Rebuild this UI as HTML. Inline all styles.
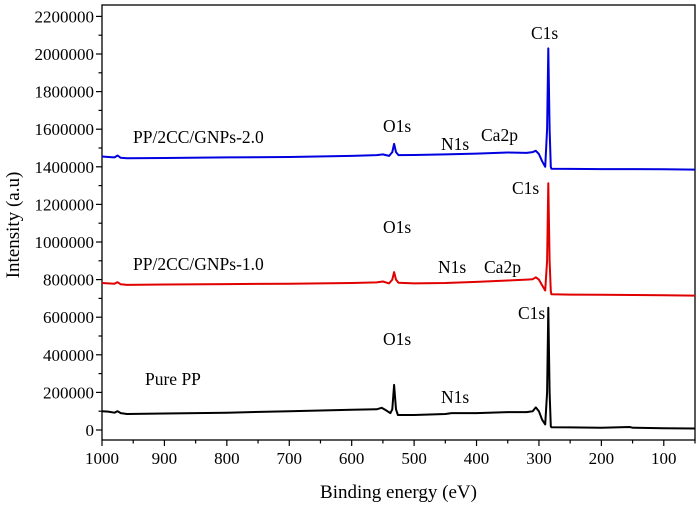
<!DOCTYPE html>
<html><head><meta charset="utf-8"><style>
html,body{margin:0;padding:0;background:#fff;}
svg text{font-family:"Liberation Serif",serif;fill:#000;}
</style></head><body>
<svg id="chart" width="700" height="510" viewBox="0 0 700 510" xmlns="http://www.w3.org/2000/svg"></svg>
<script>
const xTicks=[1000,900,800,700,600,500,400,300,200,100];
const yTicks=[0,200000,400000,600000,800000,1000000,1200000,1400000,1600000,1800000,2000000,2200000];
const energyPure=[1000,990,980,975,970,960,900,800,700,600,560,552,545,538,535,532,529,526,520,500,450,440,400,350,320,310,305,300,295,290,287,285,283,281,280,250,200,155,150,100,50];
const valuesPure=[100000,98000,92000,100000,90000,85000,88000,92000,100000,108000,110000,118000,105000,90000,110000,240000,110000,80000,80000,80000,85000,90000,90000,95000,95000,100000,120000,100000,55000,30000,200000,650000,200000,20000,15000,14000,12000,16000,12000,9000,8000];
const energyRed=[1000,990,980,975,970,960,900,800,700,600,560,550,540,535,532,529,525,500,450,400,350,320,310,305,300,295,290,287,285,283,281,280,250,200,150,100,50];
const valuesRed=[782000,780000,778000,786000,775000,772000,774000,776000,778000,782000,785000,790000,780000,800000,840000,800000,783000,780000,782000,788000,795000,800000,802000,812000,800000,770000,742000,900000,1312000,900000,740000,722000,720000,719000,718000,717000,715000];
const energyBlue=[1000,990,980,975,970,960,900,800,700,600,560,550,540,535,532,529,525,500,450,400,350,320,310,305,300,295,290,287,285,283,281,280,250,200,150,100,50];
const valuesBlue=[1455000,1452000,1450000,1460000,1448000,1445000,1447000,1450000,1452000,1458000,1462000,1466000,1458000,1478000,1522000,1478000,1462000,1463000,1466000,1470000,1476000,1474000,1478000,1485000,1468000,1430000,1400000,1600000,2030000,1600000,1400000,1390000,1389000,1388000,1388000,1387000,1385000];

const NS="http://www.w3.org/2000/svg";
const svg=document.getElementById('chart');
const L=102,R=695,T=5,B=440;
const xMin=50,xMax=1000,yZero=430,yPer=37.6/200000;
function sx(e){return L+(xMax-e)/(xMax-xMin)*(R-L);}
function sy(v){return yZero-v*yPer;}
function el(tag,attrs,parent){const e=document.createElementNS(NS,tag);for(const k in attrs)e.setAttribute(k,attrs[k]);(parent||svg).appendChild(e);return e;}

const frame=el('rect',{x:L,y:T,width:R-L,height:B-T,fill:'none',stroke:'#000','stroke-width':1.3});



const xAxis=el('g',{});


for(let e=1000;e>=50;e-=50){
  const major=e%100===0;
  el('line',{x1:sx(e),x2:sx(e),y1:B,y2:B+(major?6:3.5),stroke:'#000','stroke-width':1.2},xAxis);
}
xTicks.forEach(t=>{
  const tx=el('text',{x:sx(t),y:B+24,'font-size':17,'text-anchor':'middle'},xAxis);
  
  
  tx.textContent=t;
});
const yAxis=el('g',{});


for(let v=0;v<=2200000;v+=100000){
  const major=v%200000===0;
  el('line',{x1:L,x2:L-(major?6:3.5),y1:sy(v),y2:sy(v),stroke:'#000','stroke-width':1.2},yAxis);
}
yTicks.forEach(t=>{
  const tx=el('text',{x:L-8,y:sy(t)+6,'font-size':17,'text-anchor':'end'},yAxis);
  
  
  tx.textContent=t;
});
const xt=el('text',{x:(L+R)/2,y:498,'font-size':19,'text-anchor':'middle'});


xt.textContent='Binding energy (eV)';
const yt=el('text',{x:0,y:0,'font-size':19,'text-anchor':'middle',transform:'translate(19,225) rotate(-90)'});


yt.textContent='Intensity (a.u)';

function series(en,vals,color,name){
  const d=en.map((e,i)=>(i?'L':'M')+sx(e).toFixed(1)+','+sy(vals[i]).toFixed(1)).join(' ');
  const p=el('path',{d:d,fill:'none',stroke:color,'stroke-width':2,'stroke-linejoin':'round'});
  
  
}
series(energyPure,valuesPure,'#000','series-pure-pp');
series(energyRed,valuesRed,'#e00000','series-gnps-1-0');
series(energyBlue,valuesBlue,'#0000e0','series-gnps-2-0');

const labels=[
 ['PP/2CC/GNPs-2.0',133,143,'label-gnps-2-0'],['O1s',383,132,'label-o1s-blue'],['N1s',441,150,'label-n1s-blue'],['Ca2p',481,141,'label-ca2p-blue'],['C1s',531,39,'label-c1s-blue'],
 ['PP/2CC/GNPs-1.0',133,270,'label-gnps-1-0'],['O1s',383,233,'label-o1s-red'],['N1s',438,273,'label-n1s-red'],['Ca2p',484,273,'label-ca2p-red'],['C1s',512,194,'label-c1s-red'],
 ['Pure PP',145,385,'label-pure-pp'],['O1s',383,345,'label-o1s-black'],['N1s',441,403,'label-n1s-black'],['C1s',518,319,'label-c1s-black']
];
labels.forEach(l=>{
  const tx=el('text',{x:l[1],y:l[2],'font-size':17.5});
  
  
  tx.textContent=l[0];
});
</script>
</body></html>
